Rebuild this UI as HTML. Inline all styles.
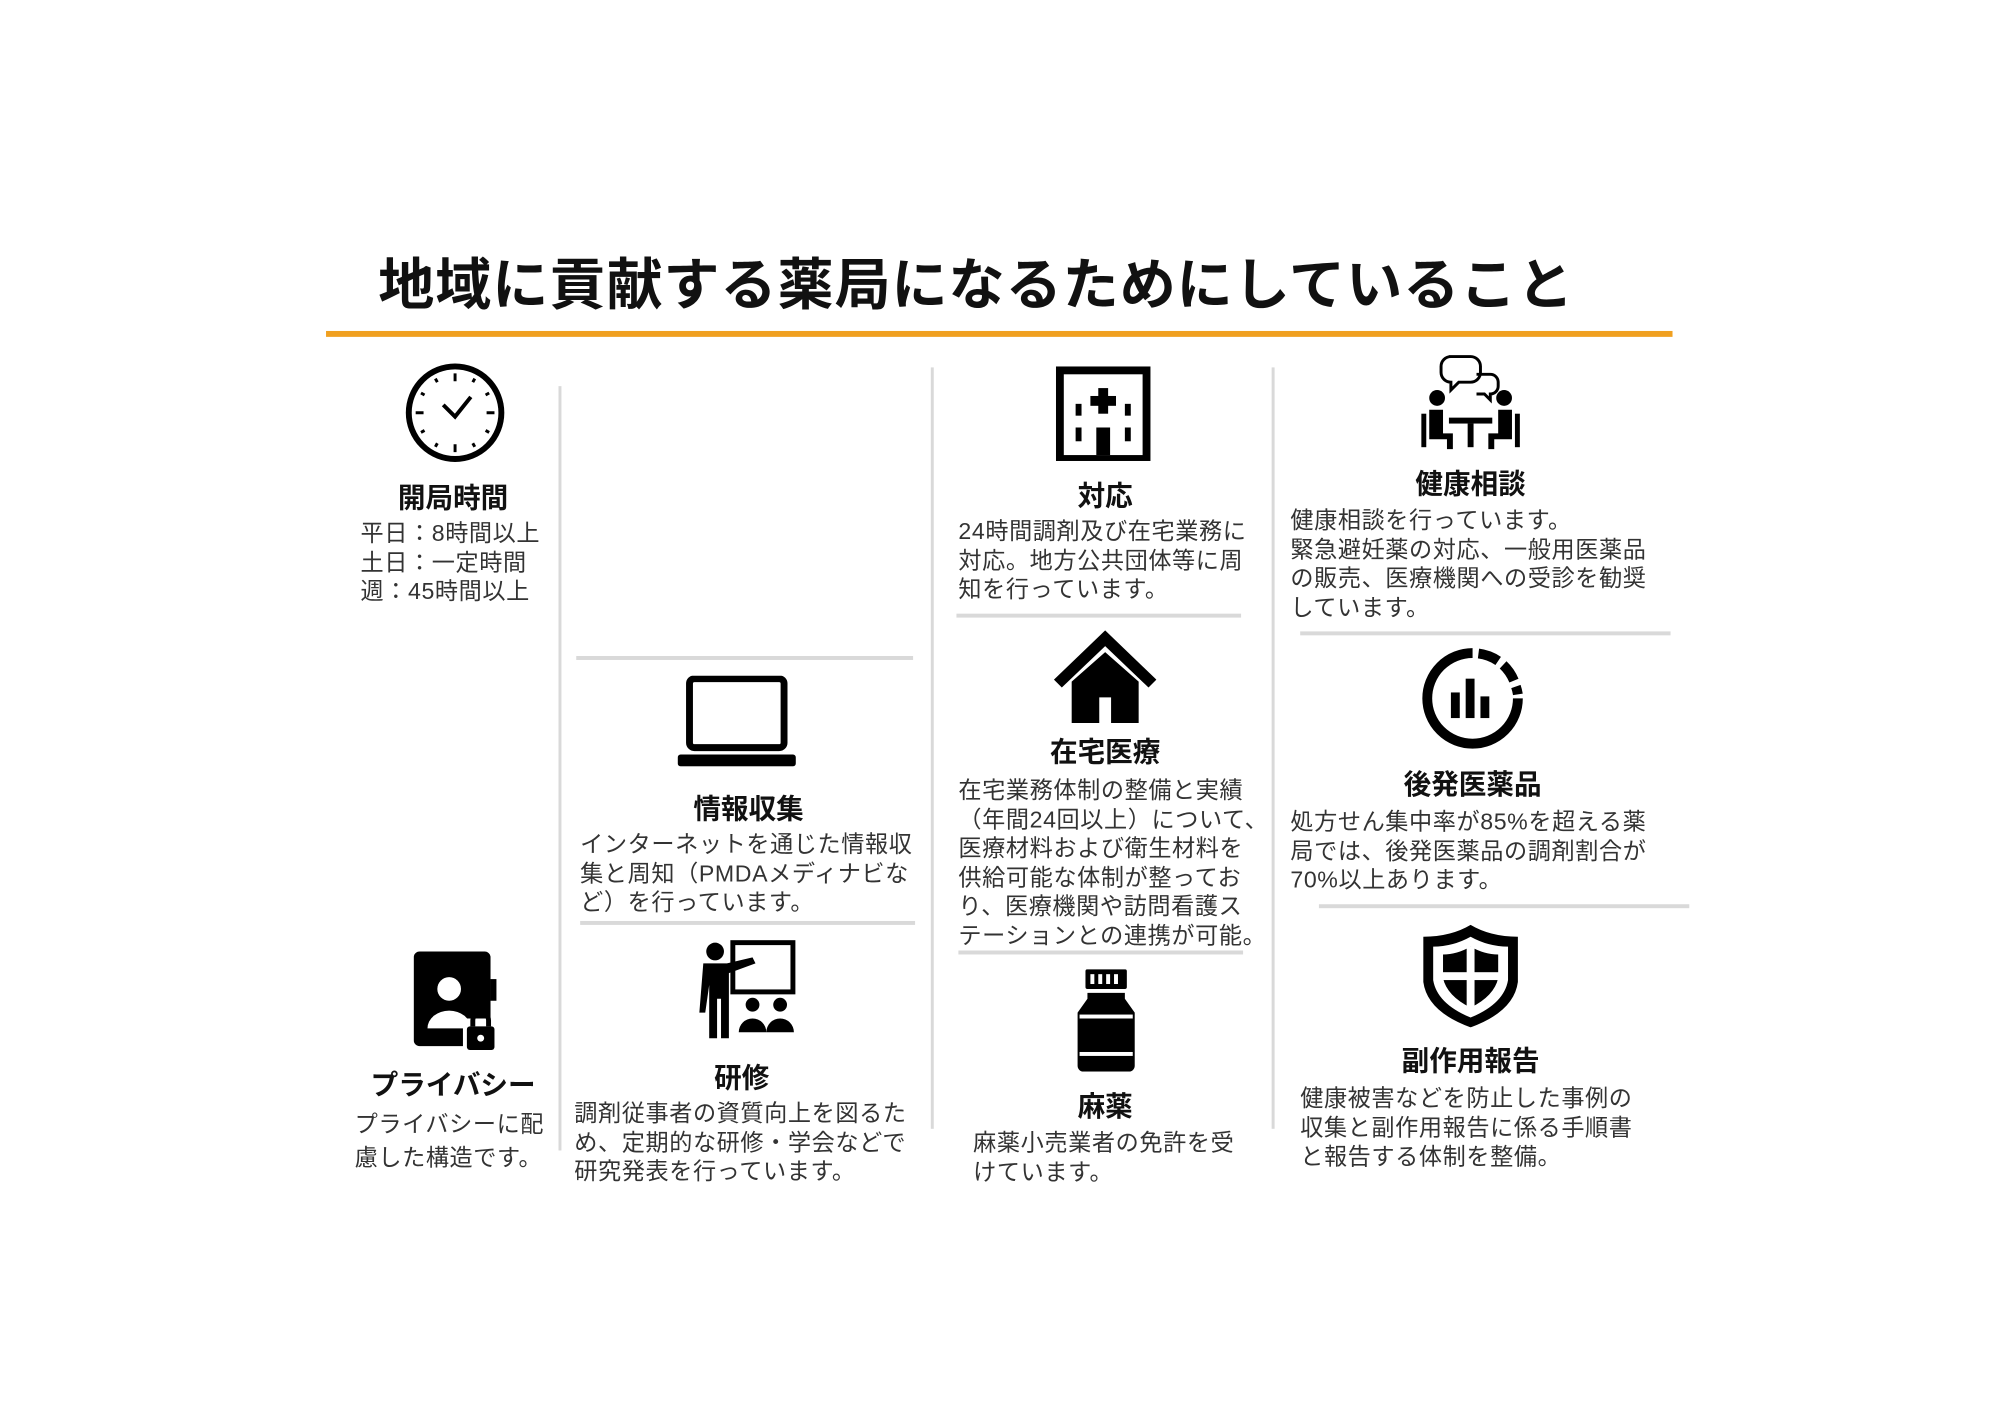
<!DOCTYPE html>
<html><head><meta charset="utf-8"><style>
html,body{margin:0;padding:0;background:#fff;}
body{width:2000px;height:1414px;position:relative;overflow:hidden;font-family:"Liberation Sans","Noto Sans CJK JP",sans-serif;}
#w{position:absolute;left:0;top:0;width:2000px;height:1414px;transform:scale(0.985);transform-origin:0 0;}
.a{position:absolute;white-space:nowrap;}
.t{font-size:57px;font-weight:bold;color:#111;line-height:57px;letter-spacing:0.9px;}
.h{font-size:28px;font-weight:bold;color:#111;line-height:32px;transform:translateX(-50%);}
.b{font-size:23.5px;color:#333;line-height:29.5px;letter-spacing:0.6px;}
.vl{position:absolute;width:3px;background:#d9d9d9;}
.hl{position:absolute;height:4px;background:#d9d9d9;}
svg{position:absolute;}
</style></head><body><div id="w">
<div class="a t" style="left:384px;top:262px;">地域に貢献する薬局になるためにしていること</div>
<div style="position:absolute;left:331px;top:336px;width:1367px;height:6px;background:#f0a020;"></div>

<div class="vl" style="left:567px;top:392px;height:776px;"></div>
<div class="vl" style="left:945px;top:373px;height:773px;"></div>
<div class="vl" style="left:1291px;top:373px;height:773px;"></div>

<div class="hl" style="left:585px;top:666px;width:342px;"></div>
<div class="hl" style="left:589px;top:935px;width:340px;"></div>
<div class="hl" style="left:971px;top:623px;width:289px;"></div>
<div class="hl" style="left:973px;top:965px;width:289px;"></div>
<div class="hl" style="left:1320px;top:641px;width:376px;"></div>
<div class="hl" style="left:1339px;top:918px;width:376px;"></div>

<svg style="left:410px;top:367px" width="104" height="104" viewBox="0 0 104 104">
<circle cx="52" cy="52" r="47" fill="none" stroke="#000" stroke-width="6"/>
<g stroke="#000" stroke-width="3">
<line x1="52" y1="12" x2="52" y2="20"/><line x1="52" y1="84" x2="52" y2="92"/>
<line x1="12" y1="52" x2="20" y2="52"/><line x1="84" y1="52" x2="92" y2="52"/>
<line x1="72" y1="17.4" x2="70" y2="21"/><line x1="86.6" y1="32" x2="83" y2="34"/>
<line x1="86.6" y1="72" x2="83" y2="70"/><line x1="72" y1="86.6" x2="70" y2="83"/>
<line x1="32" y1="86.6" x2="34" y2="83"/><line x1="17.4" y1="72" x2="21" y2="70"/>
<line x1="17.4" y1="32" x2="21" y2="34"/><line x1="32" y1="17.4" x2="34" y2="21"/>
</g>
<polyline points="40,44 52,56 68,36" fill="none" stroke="#000" stroke-width="4"/>
</svg>
<div class="a h" style="left:460px;top:490px;">開局時間</div>
<div class="a b" style="left:366px;top:527px;">平日：8時間以上<br>土日：一定時間<br>週：45時間以上</div>

<svg style="left:1072px;top:372px" width="96" height="96" viewBox="0 0 96 96">
<rect x="0" y="0" width="96" height="96" fill="#000"/>
<rect x="8" y="8" width="80" height="82" fill="#fff"/>
<rect x="43" y="22" width="10" height="26" fill="#000"/><rect x="35" y="30" width="26" height="10" fill="#000"/>
<rect x="20" y="38" width="6" height="12" fill="#000"/><rect x="70" y="38" width="6" height="12" fill="#000"/>
<rect x="20" y="62" width="6" height="14" fill="#000"/><rect x="70" y="62" width="6" height="14" fill="#000"/>
<rect x="41" y="62" width="14" height="28" fill="#000"/>
</svg>
<div class="a h" style="left:1122px;top:488px;">対応</div>
<div class="a b" style="left:973px;top:525px;">24時間調剤及び在宅業務に<br>対応。地方公共団体等に周<br>知を行っています。</div>

<svg style="left:1441px;top:358px" width="104" height="104" viewBox="0 0 104 104">
<path d="M30 4 h22 a10 10 0 0 1 10 10 v6 a10 10 0 0 1 -10 10 h-12 l-8 8 v-8 a10 10 0 0 1 -10 -10 v-6 a10 10 0 0 1 10 -10z" fill="none" stroke="#000" stroke-width="3"/>
<path d="M58 22 h14 a8 8 0 0 1 8 8 v4 a8 8 0 0 1 -8 8 v6 l-6 -6 h-8" fill="none" stroke="#000" stroke-width="3"/>
<circle cx="18" cy="46" r="8" fill="#000"/><circle cx="86" cy="46" r="8" fill="#000"/>
<path d="M10 58 h14 v24 h10 v16 h-6 v-10 h-18z" fill="#000"/>
<path d="M94 58 h-14 v24 h-10 v16 h6 v-10 h18z" fill="#000"/>
<rect x="2" y="62" width="5" height="34" fill="#000"/><rect x="97" y="62" width="5" height="34" fill="#000"/>
<rect x="30" y="66" width="44" height="6" fill="#000"/><rect x="49" y="72" width="6" height="24" fill="#000"/>
</svg>
<div class="a h" style="left:1493px;top:476px;">健康相談</div>
<div class="a b" style="left:1310px;top:514px;">健康相談を行っています。<br>緊急避妊薬の対応、一般用医薬品<br>の販売、医療機関への受診を勧奨<br>しています。</div>

<svg style="left:688px;top:686px" width="120" height="92" viewBox="0 0 120 92">
<rect x="12" y="3" width="96" height="70" rx="5" fill="none" stroke="#000" stroke-width="7"/>
<rect x="0" y="80" width="120" height="12" rx="3" fill="#000"/>
</svg>
<div class="a h" style="left:760px;top:806px;">情報収集</div>
<div class="a b" style="left:589px;top:843px;">インターネットを通じた情報収<br>集と周知（PMDAメディナビな<br>ど）を行っています。</div>

<svg style="left:1070px;top:640px" width="104" height="94" viewBox="0 0 104 94">
<path d="M52 0 L104 50 L96 58 L52 16 L8 58 L0 50z" fill="#000"/>
<path d="M18 52 L52 22 L86 52 V94 H58 V68 H46 V94 H18z" fill="#000"/>
</svg>
<div class="a h" style="left:1122px;top:748px;">在宅医療</div>
<div class="a b" style="left:973px;top:788px;">在宅業務体制の整備と実績<br>（年間24回以上）について、<br>医療材料および衛生材料を<br>供給可能な体制が整ってお<br>り、医療機関や訪問看護ス<br>テーションとの連携が可能。</div>

<svg style="left:1443px;top:657px" width="104" height="104" viewBox="0 0 104 104">
<path d="M52 6 A46 46 0 1 0 98 52" fill="none" stroke="#000" stroke-width="10"/>
<path d="M58 6.5 A46 46 0 0 1 78 14" fill="none" stroke="#000" stroke-width="10"/>
<path d="M83 18 A46 46 0 0 1 94 34" fill="none" stroke="#000" stroke-width="10"/>
<path d="M96 40 A46 46 0 0 1 98 48" fill="none" stroke="#000" stroke-width="10"/>
<rect x="30" y="46" width="9" height="26" fill="#000"/><rect x="45" y="32" width="9" height="40" fill="#000"/><rect x="60" y="50" width="9" height="22" fill="#000"/>
</svg>
<div class="a h" style="left:1495px;top:781px;">後発医薬品</div>
<div class="a b" style="left:1310px;top:820px;">処方せん集中率が85%を超える薬<br>局では、後発医薬品の調剤割合が<br>70%以上あります。</div>

<svg style="left:420px;top:966px" width="88" height="104" viewBox="0 0 88 104">
<rect x="0" y="0" width="78" height="96" rx="6" fill="#000"/>
<rect x="78" y="28" width="6" height="22" fill="#000"/>
<circle cx="36" cy="38" r="12" fill="#fff"/><path d="M14 78 a22 18 0 0 1 44 0z" fill="#fff"/>
<rect x="50" y="68" width="34" height="36" rx="4" fill="#fff"/>
<path d="M60 76 v-6 a8 8 0 0 1 16 0 v6" fill="none" stroke="#000" stroke-width="5"/>
<rect x="54" y="76" width="28" height="24" rx="3" fill="#000"/><circle cx="68" cy="88" r="3.5" fill="#fff"/>
</svg>
<div class="a h" style="left:460px;top:1086px;">プライバシー</div>
<div class="a b" style="left:360px;top:1124px;line-height:34px;">プライバシーに配<br>慮した構造です。</div>

<svg style="left:702px;top:954px" width="108" height="102" viewBox="0 0 108 102">
<rect x="42" y="3" width="61" height="50" fill="none" stroke="#000" stroke-width="5"/>
<circle cx="24" cy="12" r="9" fill="#000"/>
<path d="M12 24 h24 l26 -6 l3 6 l-27 10 v66 h-8 v-40 h-4 v40 h-8 v-54 l-4 28 h-6z" fill="#000"/>
<circle cx="62" cy="66" r="7" fill="#000"/><circle cx="90" cy="66" r="7" fill="#000"/>
<path d="M48 94 a14 14 0 0 1 28 0z M76 94 a14 14 0 0 1 28 0z" fill="#000"/>
</svg>
<div class="a h" style="left:753px;top:1079px;">研修</div>
<div class="a b" style="left:583px;top:1116px;">調剤従事者の資質向上を図るた<br>め、定期的な研修・学会などで<br>研究発表を行っています。</div>

<svg style="left:1090px;top:984px" width="66" height="104" viewBox="0 0 66 104">
<rect x="12" y="0" width="42" height="20" rx="2" fill="#000"/>
<g fill="#fff"><rect x="17" y="5" width="4" height="10"/><rect x="25" y="5" width="4" height="10"/><rect x="33" y="5" width="4" height="10"/><rect x="41" y="5" width="4" height="10"/></g>
<path d="M14 24 h38 v6 l10 14 v54 a6 6 0 0 1 -6 6 h-46 a6 6 0 0 1 -6 -6 v-54 l10 -14z" fill="#000"/>
<rect x="6" y="46" width="54" height="4" fill="#fff"/><rect x="6" y="84" width="54" height="4" fill="#fff"/>
</svg>
<div class="a h" style="left:1122px;top:1108px;">麻薬</div>
<div class="a b" style="left:988px;top:1146px;">麻薬小売業者の免許を受<br>けています。</div>

<svg style="left:1441px;top:937px" width="104" height="106" viewBox="0 0 104 106">
<path d="M52 2 Q72 14 100 14 V60 Q96 90 52 106 Q8 90 4 60 V14 Q32 14 52 2z" fill="#000"/>
<path d="M52 14 Q70 24 90 24 V58 Q86 82 52 96 Q18 82 14 58 V24 Q34 24 52 14z" fill="#fff"/>
<path d="M52 24 Q66 32 80 32 V56 Q76 74 52 86 Q28 74 24 56 V32 Q38 32 52 24z" fill="#000"/>
<rect x="48" y="24" width="8" height="64" fill="#fff"/><rect x="22" y="50" width="60" height="8" fill="#fff"/>
</svg>
<div class="a h" style="left:1493px;top:1062px;">副作用報告</div>
<div class="a b" style="left:1320px;top:1101px;">健康被害などを防止した事例の<br>収集と副作用報告に係る手順書<br>と報告する体制を整備。</div>
</div></body></html>
